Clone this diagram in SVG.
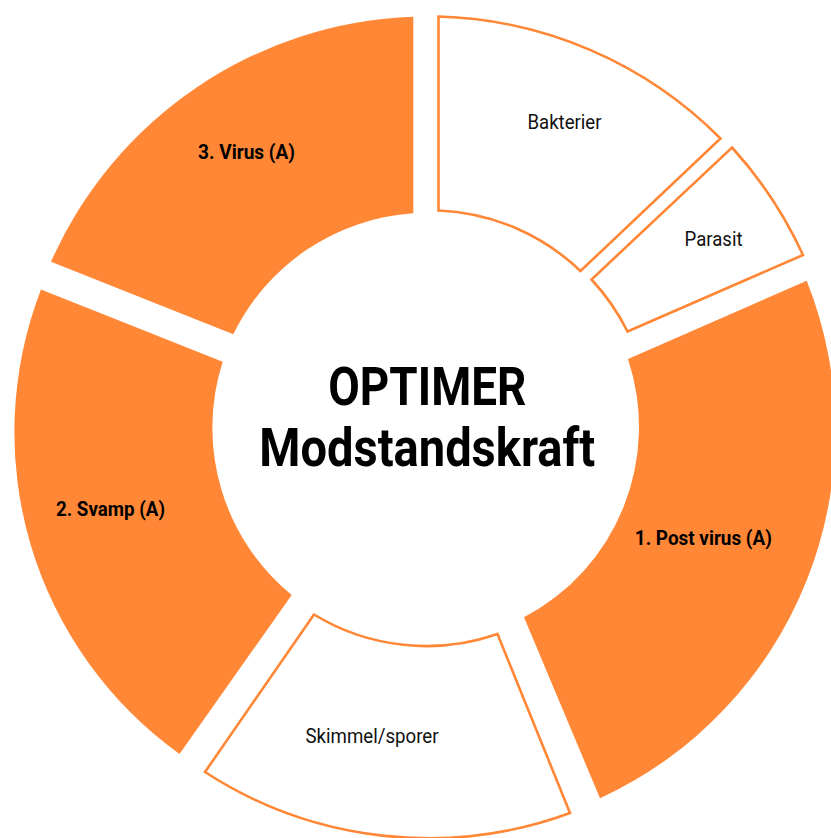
<svg xmlns="http://www.w3.org/2000/svg" width="831" height="838" viewBox="0 0 831 838">
<style>
.seg-o{fill:#FF8736;stroke:none}
.seg-w{fill:#FFFFFF;stroke:#FF8736;stroke-width:2.6;stroke-linejoin:miter}
.lbl{font-family:Roboto,"Liberation Sans",sans-serif;font-size:20px;fill:#111111;text-anchor:middle}
.lblb{font-family:Roboto,"Liberation Sans",sans-serif;font-size:20px;font-weight:bold;fill:#000000;text-anchor:middle}
.title{font-family:Roboto,"Liberation Sans",sans-serif;font-size:54px;font-weight:bold;fill:#000000;text-anchor:middle}
</style>
<rect width="831" height="838" fill="#FFFFFF"/>
<g id="bakterier">
<path class="seg-w" d="M438.5,16.5 A414,414 0 0 1 720.5,138.5 L580.5,271 A218,218 0 0 0 438.5,210.5 Z"/>
<text class="lbl" x="564.5" y="129.3" textLength="74" lengthAdjust="spacingAndGlyphs">Bakterier</text>
</g>
<g id="parasit">
<path class="seg-w" d="M732,147.5 A416,416 0 0 1 803,255 L627.5,331.5 A220,220 0 0 0 591.5,279.5 Z"/>
<text class="lbl" x="713.5" y="246" textLength="58" lengthAdjust="spacingAndGlyphs">Parasit</text>
</g>
<g id="post-virus">
<path class="seg-o" d="M806.7,280.7 A405,405 0 0 1 600,798.3 L524,617.3 A215,215 0 0 0 628,359 Z"/>
<text class="lblb" x="703.3" y="545" textLength="137" lengthAdjust="spacingAndGlyphs">1. Post virus (A)</text>
</g>
<g id="skimmel">
<path class="seg-w" d="M570,813 A410,410 0 0 1 205,772 L314,614.5 A216,216 0 0 0 497.5,634 Z"/>
<text class="lbl" x="372" y="742.5" textLength="133" lengthAdjust="spacingAndGlyphs">Skimmel/sporer</text>
</g>
<g id="svamp">
<path class="seg-o" d="M179.5,754 A396,396 0 0 1 41,289.5 L222.7,361.7 A216,216 0 0 0 291.7,595 Z"/>
<text class="lblb" x="110.5" y="516" textLength="109" lengthAdjust="spacingAndGlyphs">2. Svamp (A)</text>
</g>
<g id="virus">
<path class="seg-o" d="M51,261.7 A412,412 0 0 1 413.3,16.7 L413.3,213.3 A216,216 0 0 0 233.3,334.3 Z"/>
<text class="lblb" x="246.5" y="158.7" textLength="97" lengthAdjust="spacingAndGlyphs">3. Virus (A)</text>
</g>
<g id="center">
<text class="title" x="427.3" y="405" textLength="198" lengthAdjust="spacingAndGlyphs">OPTIMER</text>
<text class="title" x="427.3" y="466" textLength="336" lengthAdjust="spacingAndGlyphs">Modstandskraft</text>
</g>
<g id="connectors"></g>
</svg>
